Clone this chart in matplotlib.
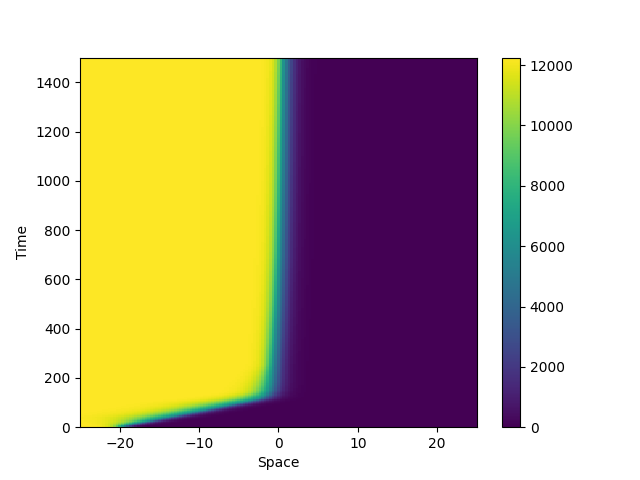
import numpy as np
import matplotlib.pyplot as plt

# front position (where the field is half its maximum)
front_t = [0, 25, 50, 75, 100, 115, 130, 150, 180, 250, 350, 500, 700, 1000, 1500]
front_x = [-20.3, -16.4, -12.5, -8.6, -4.7, -2.6, -1.7, -1.2, -0.95, -0.7, -0.45, -0.15, 0.15, 0.4, 0.7]

# width of the front behind and ahead of it, changing as it moves and stalls
width_t = [0, 10, 40, 100, 140, 250, 1500]
width_back = [0.4, 1.0, 2.3, 2.3, 1.1, 0.6, 0.5]
width_ahead = [0.5, 0.8, 1.0, 1.0, 0.85, 0.78, 0.72]

# plateau value behind the front
peak = 12250

space = np.linspace(-25, 25, 151)
time = np.linspace(0, 1500, 301)

X, T = np.meshgrid(space, time)
xf = np.interp(T, front_t, front_x)
wb = np.interp(T, width_t, width_back)
wa = np.interp(T, width_t, width_ahead)
d = X - xf
w = np.where(d < 0, wb, wa)
u = peak / (1 + np.exp(d / w))

fig, ax = plt.subplots()
pc = ax.pcolormesh(space, time, u, shading='auto', cmap='viridis', vmin=0, vmax=peak)
fig.colorbar(pc, ax=ax)
ax.set_xlabel('Space')
ax.set_ylabel('Time')
ax.set_xlim(-25, 25)
ax.set_ylim(0, 1500)

plt.savefig('out.png')
